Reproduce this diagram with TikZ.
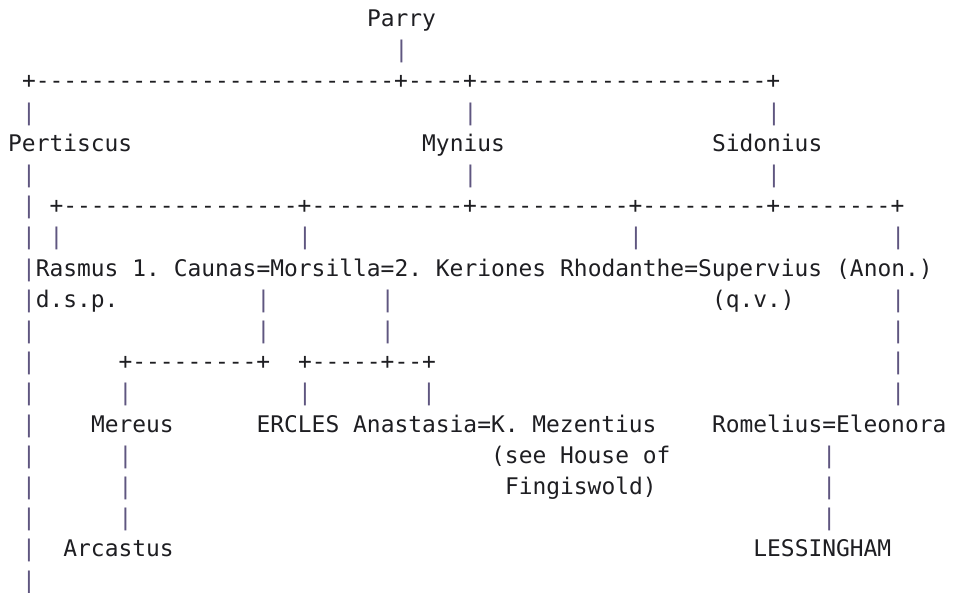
\documentclass[tikz,border=0pt]{standalone}
\usepackage{fontspec}
\setmonofont{DejaVu Sans Mono}
\definecolor{ink}{HTML}{1E1E22}
\definecolor{barcol}{HTML}{5F5680}
\begin{document}
\begin{tikzpicture}[x=13.8pt, y=-31.2pt, shift={(8pt,-26.5pt)}]
	\tikzstyle{person} = [ inner sep=0pt, anchor=base west, text=ink, font={\ttfamily\fontsize{22.9}{31.2}\selectfont\frenchspacing} ];
	\tikzstyle{link} = [ person ];
	\tikzstyle{bar} = [ person, text=barcol ];

	\useasboundingbox (-8pt,26.5pt) rectangle ++(962pt,-593pt);

	% people, by row
	\node[person] (parry) at (26,0) {Parry};
	\node[person] (pertiscus) at (0,4) {Pertiscus};
	\node[person] (mynius) at (30,4) {Mynius};
	\node[person] (sidonius) at (51,4) {Sidonius};
	\node[person] (rasmus) at (2,8) {Rasmus};
	\node[person] (caunas) at (9,8) {1. Caunas};
	\node[person] (morsilla) at (18,8) {=Morsilla=};
	\node[person] (keriones) at (28,8) {2. Keriones};
	\node[person] (rhodanthe) at (40,8) {Rhodanthe=Supervius};
	\node[person] (anon) at (60,8) {(Anon.)};
	\node[person] (dsp) at (2,9) {d.s.p.};
	\node[person] (qv) at (51,9) {(q.v.)};
	\node[person] (mereus) at (6,13) {Mereus};
	\node[person] (ercles) at (18,13) {ERCLES};
	\node[person] (anastasia) at (25,13) {Anastasia=K. Mezentius};
	\node[person] (romelius) at (51,13) {Romelius=Eleonora};
	\node[person] (seehouse) at (35,14) {(see House of};
	\node[person] (fingiswold) at (36,15) {Fingiswold)};
	\node[person] (arcastus) at (4,17) {Arcastus};
	\node[person] (lessingham) at (54,17) {LESSINGHAM};

	% branch lines
	\node[link] (line2) at (1,2) {+--------------------------+----+---------------------+};
	\node[link] (line6) at (3,6) {+-----------------+-----------+-----------+---------+--------+};
	\node[link] (line11a) at (8,11) {+---------+};
	\node[link] (line11b) at (21,11) {+-----+--+};

	% vertical strokes
	\foreach \r in {3,5,6,...,18} {
		\node[bar] (bar-1-\r) at (1,\r) {|};
	}
	\foreach \c/\r in {28/1, 33/3, 55/3, 33/5, 55/5, 3/7, 21/7, 45/7, 64/7,
		18/9, 27/9, 64/9, 18/10, 27/10, 64/10, 64/11, 8/12, 21/12, 30/12, 64/12,
		8/14, 59/14, 8/15, 59/15, 8/16, 59/16} {
		\node[bar] (bar-\c-\r) at (\c,\r) {|};
	}

\end{tikzpicture}
\end{document}
